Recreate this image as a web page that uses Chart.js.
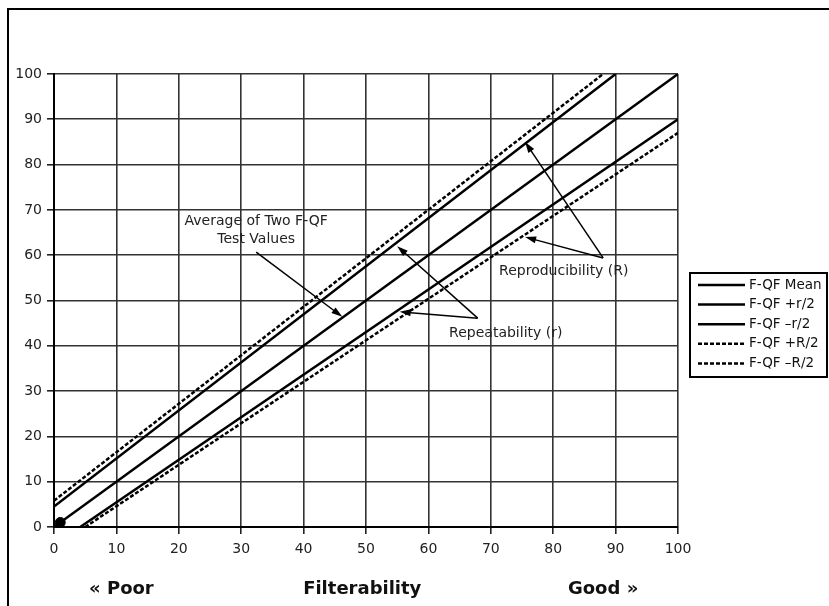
<!DOCTYPE html>
<html>
<head>
<meta charset="utf-8">
<title>F-QF precision chart</title>
<script src="https://cdn.jsdelivr.net/npm/chart.js@4/dist/chart.umd.min.js"></script>
<style>
  html, body { margin: 0; padding: 0; background: #fff; }
  #chart { display: block; }
</style>
</head>
<body>
<canvas id="chart" width="829" height="606"></canvas>
<script>
// Series (filterability, x vs y)
const seriesLabels = ['F-QF Mean', 'F-QF +r/2', 'F-QF \u2013r/2', 'F-QF +R/2', 'F-QF \u2013R/2'];
const meanLine = [[0, 0], [100, 100]];
const plusSmallR = [[0, 4.5], [90, 100]];
const minusSmallR = [[4.2, 0], [100, 90]];
const plusBigR = [[0, 5.8], [88, 100]];
const minusBigR = [[5, 0], [100, 87]];
const markerPoint = [[1, 1]];
const tickValues = [0, 10, 20, 30, 40, 50, 60, 70, 80, 90, 100];

// Callouts (data coordinates)
const notes = [
    { lines: ['Average of Two F-QF', 'Test Values'], x: 32.4, y: 67.5, arrows: [[32.4, 60.7, 46.2, 46.4]] },
    { lines: ['Repeatability (r)'], x: 72.4, y: 42.8, arrows: [[67.9, 46.1, 55.0, 62.0], [67.9, 46.1, 55.4, 47.5]] },
    { lines: ['Reproducibility (R)'], x: 81.7, y: 56.5, arrows: [[88.0, 59.4, 75.5, 85.0], [88.0, 59.4, 75.5, 64.0]] }
];
const bottomLabels = [['\u00ab Poor', 10.8], ['Filterability', 49.4], ['Good \u00bb', 88]];

const toPts = arr => arr.map(p => ({ x: p[0], y: p[1] }));
const dashes = [null, null, null, [4, 2], [4, 2]];
const lineSets = [meanLine, plusSmallR, minusSmallR, plusBigR, minusBigR].map((d, i) => ({
    label: seriesLabels[i],
    data: toPts(d),
    showLine: true,
    borderColor: '#000',
    borderWidth: 2.5,
    borderDash: dashes[i] || [],
    pointRadius: 0,
    fill: false
}));
lineSets.push({
    label: 'marker',
    data: toPts(markerPoint),
    pointRadius: 5,
    pointBackgroundColor: '#000',
    pointBorderColor: '#000',
    showLine: false
});

const font = 'DejaVu Sans';

const decorations = {
    id: 'decorations',
    afterDraw(chart) {
        const ctx = chart.ctx;
        const xs = chart.scales.x, ys = chart.scales.y;
        ctx.save();

        // outer frame
        ctx.strokeStyle = '#000';
        ctx.lineWidth = 2;
        ctx.beginPath();
        ctx.moveTo(8, 606);
        ctx.lineTo(8, 9);
        ctx.lineTo(829, 9);
        ctx.stroke();

        // callouts
        ctx.fillStyle = '#222';
        ctx.font = '14px "' + font + '"';
        ctx.textAlign = 'center';
        ctx.textBaseline = 'middle';
        notes.forEach(n => {
            const cx = xs.getPixelForValue(n.x);
            let cy = ys.getPixelForValue(n.y);
            n.lines.forEach((t, k) => ctx.fillText(t, cx, cy + k * 18));
            n.arrows.forEach(a => {
                const x1 = xs.getPixelForValue(a[0]), y1 = ys.getPixelForValue(a[1]);
                const x2 = xs.getPixelForValue(a[2]), y2 = ys.getPixelForValue(a[3]);
                const ang = Math.atan2(y2 - y1, x2 - x1);
                ctx.strokeStyle = '#000';
                ctx.lineWidth = 1.5;
                ctx.beginPath();
                ctx.moveTo(x1, y1);
                ctx.lineTo(x2 - 8 * Math.cos(ang), y2 - 8 * Math.sin(ang));
                ctx.stroke();
                ctx.fillStyle = '#000';
                ctx.beginPath();
                ctx.moveTo(x2, y2);
                ctx.lineTo(x2 - 11 * Math.cos(ang) + 3.5 * Math.sin(ang), y2 - 11 * Math.sin(ang) - 3.5 * Math.cos(ang));
                ctx.lineTo(x2 - 11 * Math.cos(ang) - 3.5 * Math.sin(ang), y2 - 11 * Math.sin(ang) + 3.5 * Math.cos(ang));
                ctx.closePath();
                ctx.fill();
                ctx.fillStyle = '#222';
            });
        });

        // bottom captions
        ctx.fillStyle = '#111';
        ctx.font = 'bold 18px "' + font + '"';
        bottomLabels.forEach(b => ctx.fillText(b[0], xs.getPixelForValue(b[1]), 589));

        // legend box
        const bx = 690, by = 273, bw = 137, bh = 104;
        ctx.strokeStyle = '#000';
        ctx.lineWidth = 2;
        ctx.strokeRect(bx, by, bw, bh);
        ctx.textAlign = 'left';
        ctx.font = '13.5px "' + font + '"';
        ctx.fillStyle = '#111';
        for (let i = 0; i < 5; i++) {
            const ds = chart.data.datasets[i];
            const ry = by + 12 + i * 19.6;
            ctx.strokeStyle = '#000';
            ctx.lineWidth = ds.borderWidth;
            ctx.setLineDash(ds.borderDash);
            ctx.beginPath();
            ctx.moveTo(bx + 8, ry);
            ctx.lineTo(bx + 55, ry);
            ctx.stroke();
            ctx.setLineDash([]);
            ctx.fillText(ds.label, bx + 59, ry);
        }
        ctx.restore();
    }
};

new Chart(document.getElementById('chart'), {
    type: 'scatter',
    data: { datasets: lineSets },
    options: {
        responsive: false,
        animation: false,
        devicePixelRatio: 1,
        layout: { padding: { left: 0, top: 74, right: 151, bottom: 0 } },
        plugins: { legend: { display: false }, tooltip: { enabled: false } },
        scales: {
            x: {
                type: 'linear', min: 0, max: 100,
                afterFit: s => { s.height = 79; },
                afterBuildTicks: s => { s.ticks = tickValues.map(v => ({ value: v })); },
                ticks: { color: '#222', font: { family: font, size: 14 }, padding: 7 },
                grid: { color: '#333', lineWidth: 1.6, tickLength: 7, tickColor: '#222' },
                border: { color: '#000', width: 2 }
            },
            y: {
                type: 'linear', min: 0, max: 100,
                afterFit: s => { s.width = 54; },
                afterBuildTicks: s => { s.ticks = tickValues.map(v => ({ value: v })); },
                ticks: { color: '#222', font: { family: font, size: 14 }, padding: 5 },
                grid: { color: '#333', lineWidth: 1.6, tickLength: 7, tickColor: '#222' },
                border: { color: '#000', width: 2 }
            }
        }
    },
    plugins: [decorations]
});
</script>
</body>
</html>
